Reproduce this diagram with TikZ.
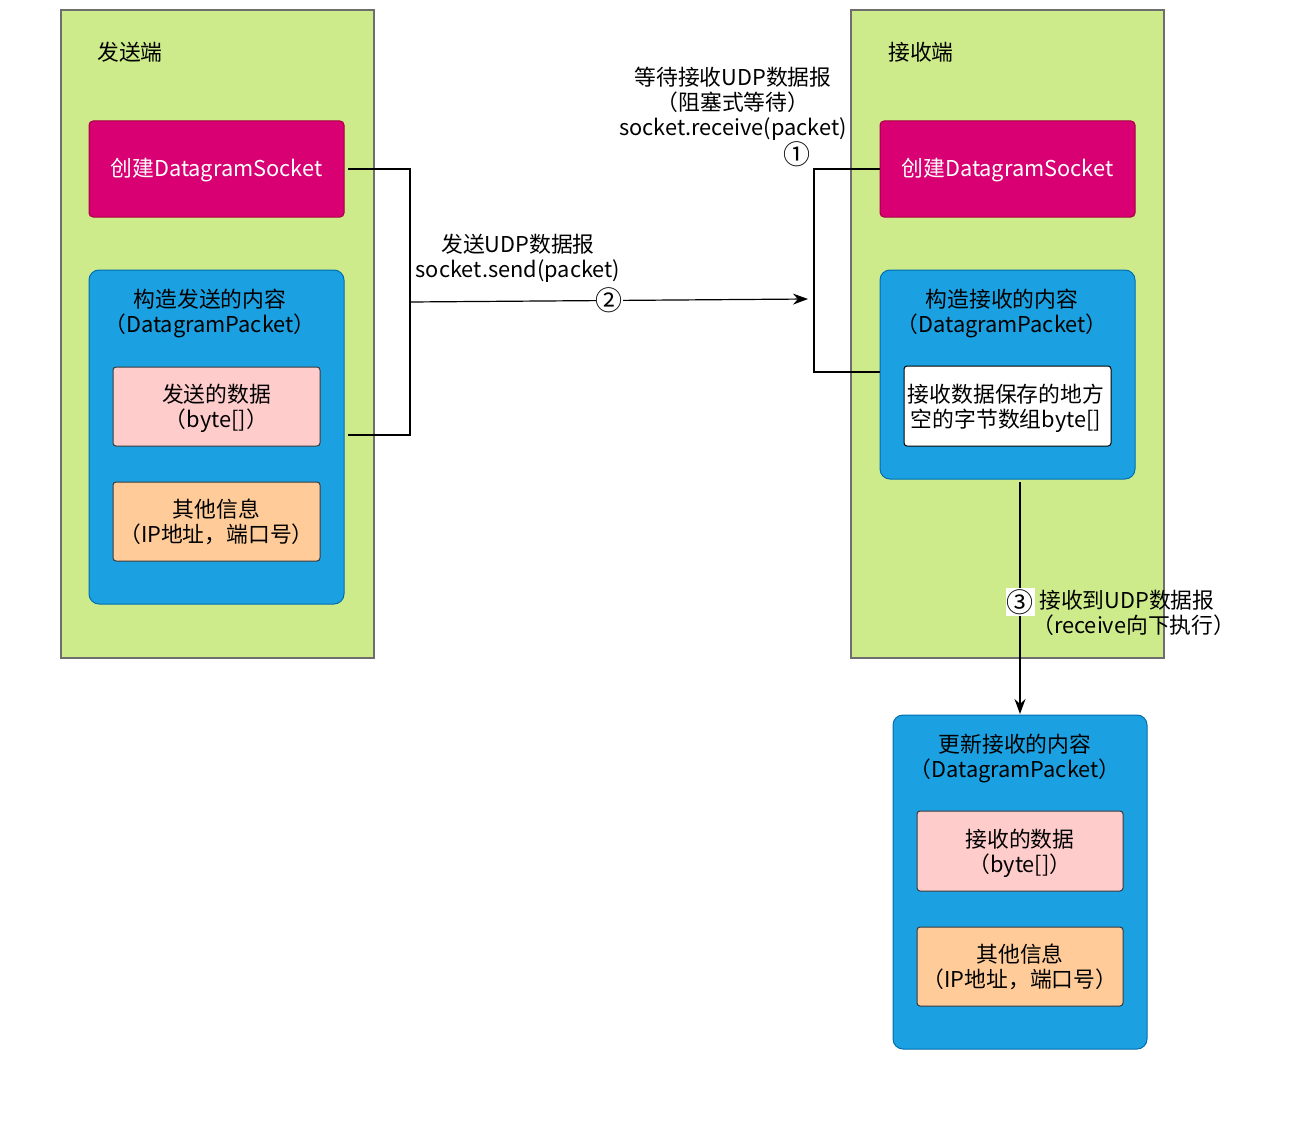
\documentclass[tikz,border=0pt]{standalone}
\usepackage{fontspec}
\setmainfont{Noto Sans CJK SC}
\usetikzlibrary{arrows.meta}
\definecolor{grn}{HTML}{CDEB8B}
\definecolor{grnS}{HTML}{6E6E6E}
\definecolor{mag}{HTML}{D80073}
\definecolor{magS}{HTML}{A50040}
\definecolor{blu}{HTML}{1BA1E2}
\definecolor{bluS}{HTML}{006EAF}
\definecolor{pnk}{HTML}{FFCCCC}
\definecolor{org}{HTML}{FFCC99}
\definecolor{dk}{HTML}{36393D}
\newcommand{\circnum}[1]{{\fontsize{27}{25}\selectfont #1}}
\tikzset{
  txt/.style={font=\fontsize{21.8}{25}\selectfont, align=center, inner sep=0pt},
  panel/.style={draw=grnS, fill=grn, line width=1.2pt},
  sockbox/.style={draw=magS, fill=mag, rounded corners=4pt, line width=1pt},
  pktbox/.style={draw=bluS, fill=blu, rounded corners=10pt, line width=1pt},
  databox/.style={draw=dk, fill=pnk, rounded corners=3pt, line width=1pt},
  infobox/.style={draw=dk, fill=org, rounded corners=3pt, line width=1pt},
  bufbox/.style={draw=black, fill=white, rounded corners=3pt, line width=1pt},
  wire/.style={draw=black, line width=1.2pt},
  arr/.style={wire, -{Stealth[length=15pt,width=11pt]}}
}
\begin{document}
\begin{tikzpicture}[x=1pt,y=-1pt]
\useasboundingbox (0,0) rectangle (1296,1121);
% left panel
\draw[panel] (61,10) rectangle (374,658);
\node[txt, anchor=west] (sendt) at (97,52) {发送端};
\draw[sockbox] (89,121) rectangle (344,217);
\node[txt, text=white] (sock1) at (216.5,170) {创建DatagramSocket};
\draw[pktbox] (89,270) rectangle (344,604);
\node[txt] (pkt1) at (210,313) {构造发送的内容\\（DatagramPacket）};
\draw[databox] (113,367) rectangle (320,446);
\node[txt] (dat1) at (216.5,408) {发送的数据\\（byte[]）};
\draw[infobox] (113,482) rectangle (320,561);
\node[txt] (inf1) at (216.5,522) {其他信息\\（IP地址，端口号）};
% right panel
\draw[panel] (851,10) rectangle (1164,658);
\node[txt, anchor=west] (recvt) at (888,52) {接收端};
\draw[sockbox] (880,121) rectangle (1135,217);
\node[txt, text=white] (sock2) at (1007.5,170) {创建DatagramSocket};
\draw[pktbox] (880,270) rectangle (1135,479);
\node[txt] (pkt2) at (1002,313) {构造接收的内容\\（DatagramPacket）};
\draw[bufbox] (904,366) rectangle (1111,446);
\node[txt] (buf) at (1006,408) {接收数据保存的地方\\空的字节数组byte[]};
% bottom packet
\draw[pktbox] (893,715) rectangle (1147,1049);
\node[txt] (pkt3) at (1015,758) {更新接收的内容\\（DatagramPacket）};
\draw[databox] (917,811) rectangle (1123,891);
\node[txt] (dat3) at (1020,853) {接收的数据\\（byte[]）};
\draw[infobox] (917,927) rectangle (1123,1006);
\node[txt] (inf3) at (1020,967) {其他信息\\（IP地址，端口号）};
% connectors
\coordinate (a1) at (348,169);
\coordinate (a2) at (348,435);
\coordinate (aj) at (410,302);
\coordinate (b1) at (880,169);
\coordinate (b2) at (880,372);
\coordinate (bt) at (808,299);
\draw[wire] (a1) -- (410,169) -- (410,435) -- (a2);
\draw[wire] (b1) -- (814,169) -- (814,372) -- (b2);
\draw[arr] (aj) -- node[pos=0.5, fill=white, inner sep=0pt] (n2) {\circnum{②}} (bt);
\node[txt] (lsend) at (518,258) {发送UDP数据报\\socket.send(packet)};
\node[txt] (lrecv) at (733,104) {等待接收UDP数据报\\（阻塞式等待）\\socket.receive(packet)};
\node[inner sep=0pt] (n1) at (797,154) {\circnum{①}};
\coordinate (c1) at (1020,482);
\coordinate (c2) at (1020,714);
\draw[arr] (c1) -- (c2);
\node[fill=white, inner sep=1pt] (n3) at (1020,602) {\circnum{③}};
\node[txt, anchor=west, align=left] (l3) at (1039,613) {接收到UDP数据报\\\hspace*{-7pt}（receive向下执行）};
\end{tikzpicture}
\end{document}
